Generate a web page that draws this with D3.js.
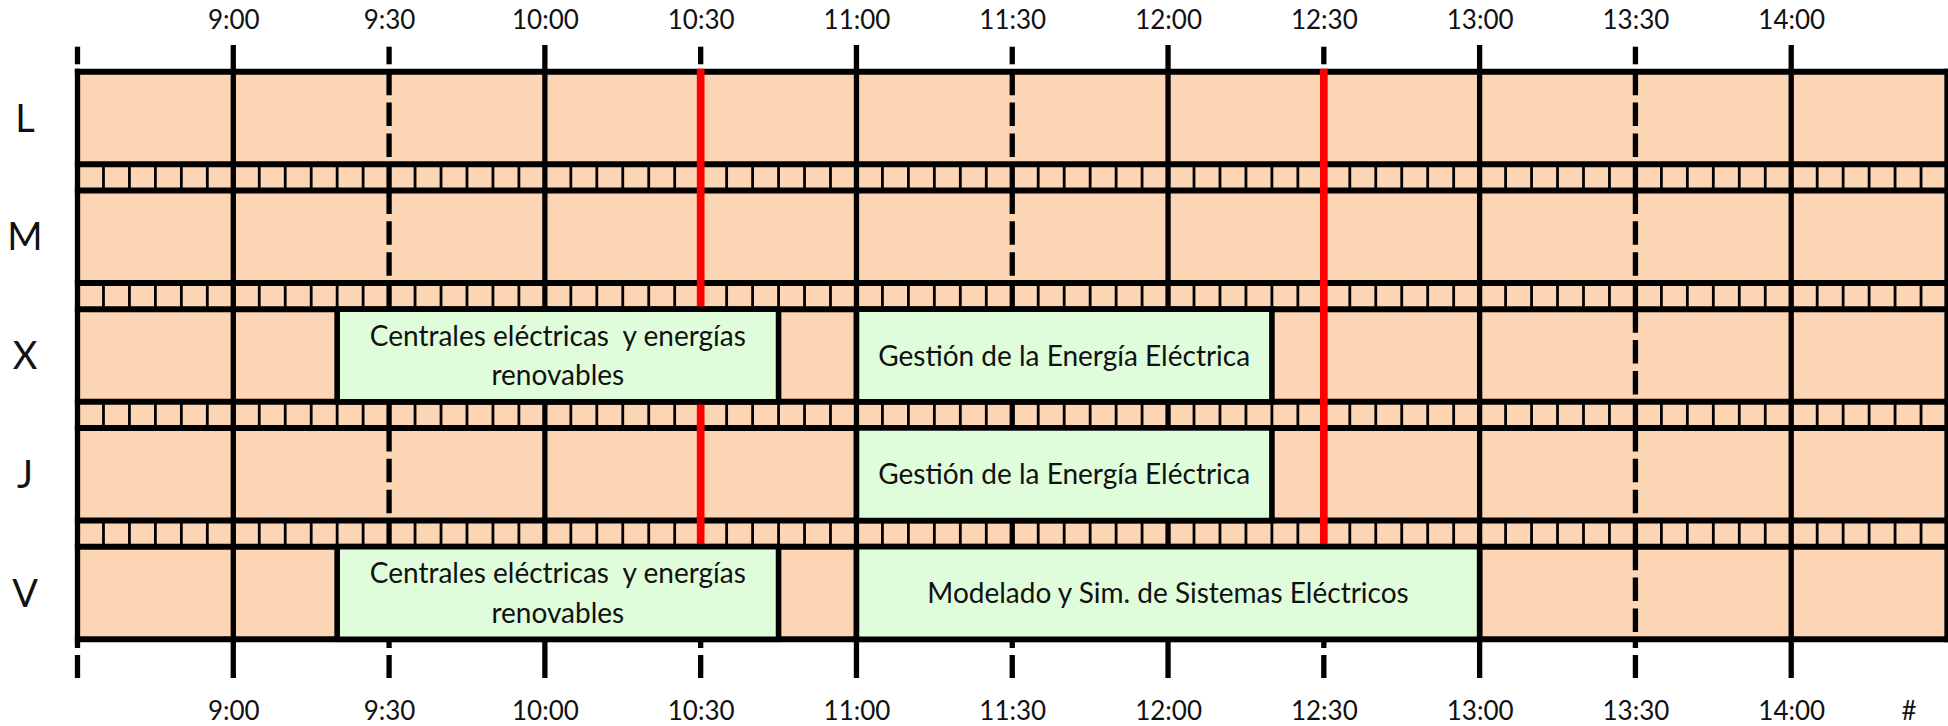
<!DOCTYPE html>
<html>
<head>
<meta charset="utf-8">
<script src="https://cdn.jsdelivr.net/npm/d3@7"></script>
<style>
  html, body { margin: 0; padding: 0; background: #fff; }
  svg { display: block; }
  text { font-family: Lato, "Noto Sans", sans-serif; fill: #111; }
</style>
</head>
<body>
<svg id="chart" width="1948" height="726"></svg>
<script>
// ---------- data ----------
const days = ["L", "M", "X", "J", "V"];
const startTime = "8:30";
const endTime = "14:30";
const hourTimes = ["9:00", "10:00", "11:00", "12:00", "13:00", "14:00"];
const halfHourTimes = ["9:30", "10:30", "11:30", "12:30", "13:30"];
const tickLabels = ["9:00", "9:30", "10:00", "10:30", "11:00", "11:30", "12:00", "12:30", "13:00", "13:30", "14:00"];
const overflowLabel = "#";
const redTimes = ["10:30", "12:30"];
const classDays = ["X", "X", "J", "V", "V"];
const classStarts = ["9:20", "11:00", "11:00", "9:20", "11:00"];
const classEnds = ["10:45", "12:20", "12:20", "10:45", "13:00"];
const classNames = [
  ["Centrales eléctricas  y energías", "renovables"],
  ["Gestión de la Energía Eléctrica"],
  ["Gestión de la Energía Eléctrica"],
  ["Centrales eléctricas  y energías", "renovables"],
  ["Modelado y Sim. de Sistemas Eléctricos"]
];
const slotMinutes = 5;

(function () {
// ---------- helpers ----------
const toMin = s => { const [h, m] = s.split(":").map(Number); return h * 60 + m; };

const svg = d3.select("#chart");
const ORANGE = "#FCD5B4", GREEN = "#DFFDDB", RED = "#FF0000", BLACK = "#000";

const x = d3.scaleLinear().domain([toMin(startTime), toMin(endTime)]).range([77.5, 1947]);
const y = d3.scaleBand().domain(days).range([71.7, 639.3]).paddingInner(0.22).paddingOuter(0);
const bw = y.bandwidth();
const yTop = y(days[0]), yBottom = y(days[days.length - 1]) + bw;

// background
svg.append("rect").attr("x", x.range()[0]).attr("y", yTop)
  .attr("width", x.range()[1] - x.range()[0] + 5).attr("height", yBottom - yTop)
  .attr("fill", ORANGE);

// strips between rows
const strips = days.slice(0, -1).map((d, i) => ({ y0: y(d) + bw, y1: y(days[i + 1]) }));

// 5-min slot lines in strips
const t0 = toMin(startTime), t1 = toMin(endTime);
const slotTimes = d3.range(t0 + slotMinutes, t1, slotMinutes).filter(t => t % 30 !== 0);
const gSlots = svg.append("g");
strips.forEach(s => {
  gSlots.selectAll(null).data(slotTimes).enter().append("line")
    .attr("x1", d => x(d)).attr("x2", d => x(d))
    .attr("y1", s.y0).attr("y2", s.y1)
    .attr("stroke", BLACK).attr("stroke-width", 2.8);
});

// hour lines (solid, full height with ticks)
svg.append("g").selectAll("line").data(hourTimes).enter().append("line")
  .attr("x1", d => x(toMin(d))).attr("x2", d => x(toMin(d)))
  .attr("y1", 45).attr("y2", 678)
  .attr("stroke", BLACK).attr("stroke-width", 5.3);

// half-hour lines (dashed within rows, solid in strips, split ticks)
const gHalf = svg.append("g");
const halfMins = halfHourTimes.map(toMin);
halfMins.forEach(t => {
  const xx = x(t);
  const seg = (y1, y2, dash) => {
    const l = gHalf.append("line").attr("x1", xx).attr("x2", xx).attr("y1", y1).attr("y2", y2)
      .attr("stroke", BLACK).attr("stroke-width", 5.3);
    if (dash) l.attr("stroke-dasharray", dash);
  };
  seg(46.7, 64.3);
  days.forEach(d => seg(y(d), y(d) + bw, `${bw / 3 - 7.4},7.4`));
  strips.forEach(s => seg(s.y0, s.y1));
  seg(yBottom, 648);
  seg(655, 678);
});

// left border + its ticks
const xl = x(t0);
[[46.7, 64.3], [yTop - 3, 648], [655, 678]].forEach(([a, b]) => {
  svg.append("line").attr("x1", xl).attr("x2", xl).attr("y1", a).attr("y2", b)
    .attr("stroke", BLACK).attr("stroke-width", 5.3);
});
// right border
svg.append("line").attr("x1", x(t1)).attr("x2", x(t1)).attr("y1", yTop - 3).attr("y2", yBottom + 3)
  .attr("stroke", BLACK).attr("stroke-width", 5.3);

// horizontal row borders
const hYs = [];
days.forEach(d => { hYs.push(y(d)); hYs.push(y(d) + bw); });
svg.append("g").selectAll("line").data(hYs).enter().append("line")
  .attr("x1", xl - 2.65).attr("x2", x(t1) + 3)
  .attr("y1", d => d).attr("y2", d => d)
  .attr("stroke", BLACK).attr("stroke-width", 6);

// red lines
svg.append("g").selectAll("line").data(redTimes).enter().append("line")
  .attr("x1", d => x(toMin(d))).attr("x2", d => x(toMin(d)))
  .attr("y1", yTop - 3).attr("y2", y(days[days.length - 1]) + 3)
  .attr("stroke", RED).attr("stroke-width", 7.7);

// class blocks
const classes = classDays.map((d, i) => ({ day: d, s: toMin(classStarts[i]), e: toMin(classEnds[i]), lines: classNames[i] }));
const gB = svg.append("g").selectAll("g").data(classes).enter().append("g");
gB.append("rect")
  .attr("x", d => x(d.s)).attr("y", d => y(d.day))
  .attr("width", d => x(d.e) - x(d.s)).attr("height", bw)
  .attr("fill", GREEN).attr("stroke", BLACK).attr("stroke-width", 5.6);
const fs = 28, lh = 39.3, capH = 0.72 * fs;
gB.each(function (d) {
  const g = d3.select(this);
  const cx = (x(d.s) + x(d.e)) / 2, cy = y(d.day) + bw / 2;
  const n = d.lines.length;
  d.lines.forEach((t, i) => {
    g.append("text").attr("x", cx)
      .attr("y", cy + (i - (n - 1) / 2) * lh + capH / 2)
      .attr("text-anchor", "middle").attr("font-size", fs)
      .style("white-space", "pre")
      .text(t);
  });
});

// row labels
svg.append("g").selectAll("text").data(days).enter().append("text")
  .attr("x", 25).attr("y", d => y(d) + bw / 2 + 0.72 * 38 / 2)
  .attr("text-anchor", "middle").attr("font-size", 38).text(d => d);

// axes (labels only)
const tickVals = tickLabels.map(toMin);
const fmt = (d) => tickLabels[tickVals.indexOf(d)];
const axTop = svg.append("g").attr("transform", "translate(0,38)")
  .call(d3.axisTop(x).tickValues(tickVals).tickFormat(fmt).tickSize(0).tickPadding(9));
const axBot = svg.append("g").attr("transform", "translate(0,692)")
  .call(d3.axisBottom(x).tickValues(tickVals).tickFormat(fmt).tickSize(0).tickPadding(9.5));
[axTop, axBot].forEach(a => {
  a.select(".domain").remove();
  a.selectAll("text").attr("font-size", 26).attr("font-family", "Lato, 'Noto Sans', sans-serif").attr("fill", "#111");
});
// truncated last label
svg.append("text").attr("x", x(t1) - 38).attr("y", 720)
  .attr("text-anchor", "middle").attr("font-size", 26).text(overflowLabel);
})();
</script>
</body>
</html>
